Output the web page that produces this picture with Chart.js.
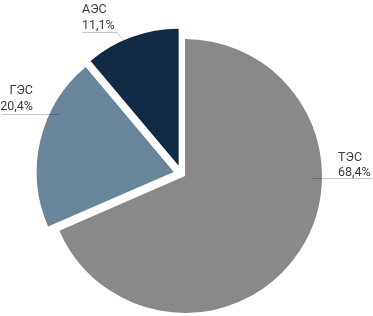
<!DOCTYPE html>
<html><head><meta charset="utf-8">
<script src="https://cdn.jsdelivr.net/npm/chart.js@4.4.0/dist/chart.umd.min.js"></script>
<style>html,body{margin:0;padding:0;background:#fff}#wrap{width:373px;height:316px;position:relative}</style>
</head><body><div id="wrap"><canvas id="c"></canvas></div>
<script>
// ---- data ----
const categories = ['ТЭС', 'ГЭС', 'АЭС'];
const shares = [68.4, 20.4, 11.1];

// ---- styling / layout ----
const colors = ['#898989', '#688599', '#122b45'];
const explode = [null, {angle: 290, dist: 12}, {angle: 328, dist: 12}];
const labelLayout = [
  {angle: 91,  frac: 0.93, pts: [[60, 0]],              tx: 26,  align: 'left',  b1: -18, b2: -3},
  {angle: 297, frac: 0.935, pts: [[-58, 0]],            tx: -27, align: 'right', b1: -21, b2: -5},
  {angle: 338, frac: 0.91, pts: [[-15, -18], [-50, -18]], tx: -50, align: 'left', b1: -20, b2: -4}
];
const fmt = v => v.toFixed(1).replace('.', ',') + '%';

const explodePlugin = {
  id: 'explode',
  afterDatasetUpdate(chart, args) {
    const meta = chart.getDatasetMeta(args.index);
    meta.data.forEach((arc, i) => {
      const e = explode[i];
      if (!e) return;
      const a = (e.angle - 90) * Math.PI / 180;
      arc.x += Math.cos(a) * e.dist;
      arc.y += Math.sin(a) * e.dist;
    });
  }
};

const labelPlugin = {
  id: 'calloutLabels',
  afterDatasetsDraw(chart) {
    const ctx = chart.ctx;
    const meta = chart.getDatasetMeta(0);
    meta.data.forEach((arc, i) => {
      const L = labelLayout[i];
      const a = (L.angle - 90) * Math.PI / 180;
      const r = arc.outerRadius * L.frac;
      const ax = Math.round(arc.x + Math.cos(a) * r);
      const ay = Math.round(arc.y + Math.sin(a) * r) + 0.5;
      ctx.save();
      ctx.strokeStyle = 'rgba(0,0,0,0.22)';
      ctx.lineWidth = 1;
      ctx.beginPath();
      ctx.moveTo(ax, ay);
      L.pts.forEach(p => ctx.lineTo(ax + p[0], ay + p[1]));
      ctx.stroke();
      const ly = ay + L.pts[L.pts.length - 1][1];
      ctx.fillStyle = '#3a3a3a';
      ctx.font = '12.5px Roboto';
      ctx.textAlign = L.align;
      ctx.textBaseline = 'alphabetic';
      ctx.fillText(categories[i], ax + L.tx, ly + L.b1);
      ctx.fillText(fmt(shares[i]), ax + L.tx, ly + L.b2);
      ctx.restore();
    });
  }
};

new Chart(document.getElementById('c'), {
  type: 'pie',
  data: {
    labels: categories,
    datasets: [{
      data: shares,
      backgroundColor: colors,
      borderWidth: 0,
      radius: 137
    }]
  },
  options: {
    responsive: true,
    maintainAspectRatio: false,
    animation: false,
    layout: {padding: {top: 36, left: 0, right: 3, bottom: 0}},
    plugins: {legend: {display: false}, tooltip: {enabled: false}}
  },
  plugins: [explodePlugin, labelPlugin]
});
</script>
</body></html>
